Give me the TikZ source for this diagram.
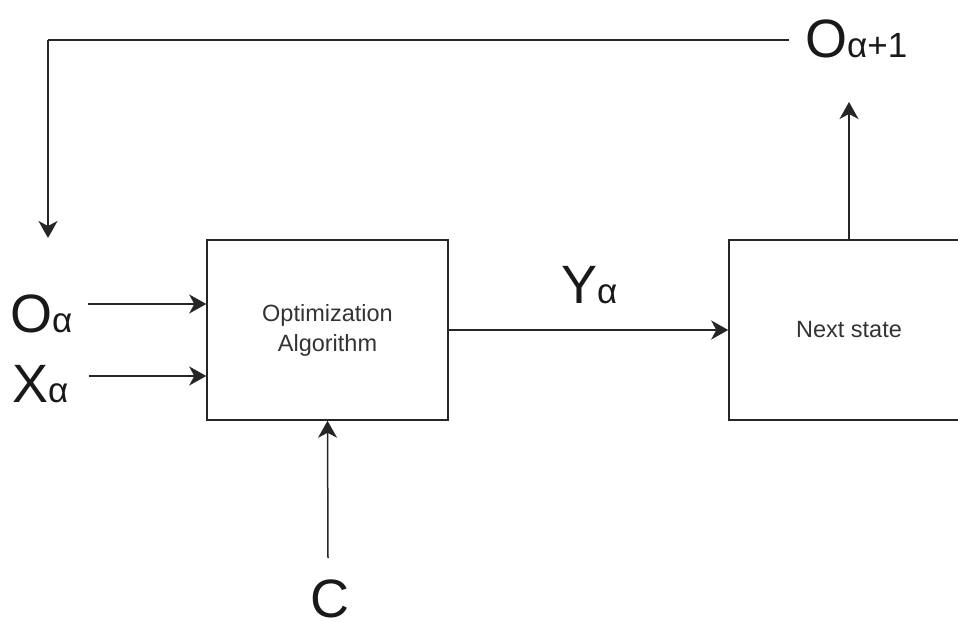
\documentclass[tikz,border=0pt]{standalone}
\usepackage{fontspec}
\setmainfont{Liberation Sans}
\usetikzlibrary{arrows.meta}
% smaller glyphs set on the same baseline as the big letter
\newcommand\smallidx[1]{{\fontsize{35}{40}\selectfont #1}}
\begin{document}
\begin{tikzpicture}[x=1pt,y=-1pt,
  blockbox/.style={draw=black!85, line width=1.5pt, minimum width=241pt,
    minimum height=180pt, inner sep=0pt, align=center, text=black!80,
    font=\fontsize{23.5}{30}\selectfont},
  conn/.style={draw=black!85, line width=1.5pt,
    -{Stealth[length=17pt,width=19pt,inset=5pt]}},
  plainline/.style={draw=black!85, line width=1.5pt},
  biglabel/.style={anchor=base west, inner sep=0pt, text=black!90,
    font=\fontsize{54}{60}\selectfont},
]
\useasboundingbox (0,0) rectangle (958,621);
\clip (0,0) rectangle (958,621);

% blocks
\node[blockbox] (opt) at (327.5,330) {Optimization\\Algorithm};
\node[blockbox, minimum width=240pt] (next) at (849,330) {Next state};

% labels
\node[biglabel] (oa)  at (10,332)  {O\smallidx{α}};
\node[biglabel] (xa)  at (12,402)  {X\smallidx{α}};
\node[biglabel] (ya)  at (561,303) {Y\smallidx{α}};
\node[biglabel] (cc)  at (310,617) {C};
\node[biglabel] (oa1) at (805,57)  {O\smallidx{α+1}};

% free ends of the connectors
\coordinate (oin)  at (88,304);
\coordinate (xin)  at (89,376);
\coordinate (cin)  at (328,558);
\coordinate (nout) at (849,102);
\coordinate (fbstart) at (789,40);
\coordinate (fbcorner) at (48,40);
\coordinate (fbend) at (48,238);

% inputs to the optimizer
\draw[conn] (oin) -- (oin -| opt.west);
\draw[conn] (xin) -- (xin -| opt.west);
\draw[conn] (cin) -- (opt.south);

% optimizer output to next state
\draw[conn] (opt.east) -- (next.west);

% next state output
\draw[conn] (next.north) -- (nout);

% feedback path
\draw[plainline] (fbstart) -- (fbcorner);
\draw[conn] (fbcorner) -- (fbend);
\end{tikzpicture}
\end{document}
